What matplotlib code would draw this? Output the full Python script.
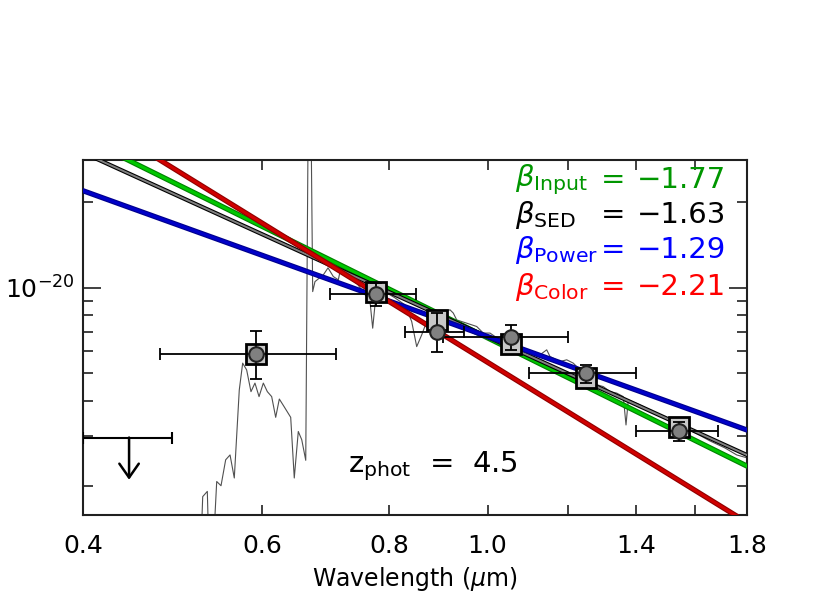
import numpy as np
import matplotlib
matplotlib.use('Agg')
import matplotlib.pyplot as plt
import matplotlib.patheffects as pe
from matplotlib.ticker import FixedLocator, NullLocator

unit = 1e-21  # fluxes below are in units of 1e-21

# photometry: wavelength (um), flux, errors
phot_wave = [0.592, 0.776, 0.891, 1.054, 1.249, 1.544]
phot_wave_lo = [0.476, 0.700, 0.829, 0.905, 1.099, 1.400]
phot_wave_hi = [0.709, 0.850, 0.948, 1.199, 1.400, 1.687]
phot_flux = [5.87, 9.53, 6.98, 6.70, 5.01, 3.14]
phot_flux_lo = [4.77, 8.66, 5.95, 6.05, 4.62, 2.89]
phot_flux_hi = [7.02, 10.4, 8.15, 7.37, 5.36, 3.38]
# model (SED) fluxes in the bands
model_flux = [5.87, 9.63, 7.71, 6.35, 4.81, 3.23]

# upper limit
ulim_wave = 0.444
ulim_wave_lo = 0.40
ulim_wave_hi = 0.489
ulim_flux = 2.97
ulim_arrow = 2.11

# best fit SED template
spec_wave = [0.5232, 0.5246, 0.5301, 0.5313, 0.5385, 0.5415, 0.5468, 0.5526, 0.5581,
             0.5635, 0.5699, 0.5743, 0.5795, 0.5852, 0.5905, 0.5960, 0.6018, 0.6073,
             0.6133, 0.6189, 0.6240, 0.6307, 0.6403, 0.6455, 0.6514, 0.6565, 0.6625,
             0.6667, 0.6697, 0.6730, 0.6765, 0.6894, 0.6968, 0.7052, 0.7132, 0.7160,
             0.7450, 0.7663, 0.7710, 0.7750, 0.7839, 0.7958, 0.8109, 0.8295, 0.8422,
             0.8518, 0.8615, 0.8713, 0.8838, 0.9082, 0.9185, 0.9254, 0.9326, 0.9539,
             0.9648, 0.9758, 0.9905, 1.0056, 1.0171, 1.0404, 1.0643, 1.0845, 1.1263,
             1.1435, 1.1521, 1.1784, 1.1965, 1.2145, 1.2331, 1.2613, 1.2806, 1.2999,
             1.3198, 1.3399, 1.3601, 1.3685, 1.3756, 1.4126, 1.4557, 1.4950, 1.5466,
             1.6000, 1.6553, 1.7125, 1.7585, 1.8000]
spec_flux = [1.41, 1.84, 1.92, 1.41, 1.41, 2.08, 2.01, 2.48, 2.58,
             2.14, 4.37, 5.43, 5.14, 4.31, 4.62, 4.14, 4.62, 4.31,
             4.14, 3.50, 4.06, 3.82, 3.50, 2.14, 3.12, 2.92, 2.47,
             60.0, 60.0, 9.70, 10.52, 11.11, 11.76, 10.96, 10.67, 11.41,
             10.30, 8.95, 7.21, 8.71, 9.45, 9.60, 9.22, 8.71, 7.61,
             6.21, 6.83, 7.61, 8.04, 8.23, 8.37, 8.15, 7.71, 7.51,
             7.41, 7.31, 6.93, 6.93, 6.74, 6.56, 6.35, 6.05, 5.81,
             6.05, 5.73, 5.50, 5.58, 5.43, 5.14, 4.86, 4.56, 4.49,
             4.31, 4.26, 4.14, 3.29, 4.03, 3.87, 3.67, 3.49, 3.29,
             3.09, 2.89, 2.73, 2.58, 2.52]

# UV slope fits: f = norm * lambda^beta (norm at 1 um)
fit_names = ['Input', 'SED', 'Power', 'Color']
fit_beta = [-1.77, -1.63, -1.29, -2.21]
fit_norm = [6.67, 6.72, 6.74, 5.47]
fit_line_colors = ['#00c800', '#808080', '#0000c8', '#d00000']
fit_edge_colors = ['#008000', '#000000', '#00008c', '#900000']
fit_text_colors = ['#009600', 'black', '#0000ff', '#ff0000']

z_phot = 4.5

xticks = [0.4, 0.6, 0.8, 1.0, 1.2, 1.4, 1.6, 1.8]
xticklabels = ['0.4', '0.6', '0.8', '1.0', '', '1.4', '', '1.8']

fig = plt.figure(figsize=(8.3, 5.93), dpi=100)
ax = fig.add_axes([0.1, 0.1315, 0.8, 0.5987])

ax.plot(spec_wave, np.array(spec_flux) * unit, color='#505050', lw=0.8, zorder=2)

wl = np.array([0.38, 1.9])
for beta, norm, lc, ec in zip(fit_beta, fit_norm, fit_line_colors, fit_edge_colors):
    lw = 1.4 if lc == '#808080' else 2.2
    ax.plot(wl, norm * wl ** beta * unit, color=lc, lw=lw, zorder=3,
            path_effects=[pe.Stroke(linewidth=lw + 1.6, foreground=ec), pe.Normal()])

ax.plot(phot_wave, np.array(model_flux) * unit, 's', ms=15, mfc='#c8c8c8',
        mec='black', mew=2, zorder=4)
xerr = [np.array(phot_wave) - phot_wave_lo, np.array(phot_wave_hi) - phot_wave]
yerr = [(np.array(phot_flux) - phot_flux_lo) * unit, (np.array(phot_flux_hi) - phot_flux) * unit]
ax.errorbar(phot_wave, np.array(phot_flux) * unit, xerr=xerr, yerr=yerr, fmt='none',
            ecolor='black', elinewidth=1.3, capsize=4, capthick=1.3, zorder=5)
ax.plot(phot_wave, np.array(phot_flux) * unit, 'o', ms=10.5, mfc='#808080',
        mec='#202020', mew=1.5, zorder=6)

ax.errorbar([ulim_wave], [ulim_flux * unit],
            xerr=[[ulim_wave - ulim_wave_lo], [ulim_wave_hi - ulim_wave]],
            fmt='none', ecolor='black', elinewidth=1.5, capsize=4, capthick=1.5, zorder=5)
ax.annotate('', xy=(ulim_wave, ulim_arrow * unit), xytext=(ulim_wave, ulim_flux * unit),
            arrowprops=dict(arrowstyle='->,head_width=0.7,head_length=1.0', lw=1.8,
                            color='black', shrinkA=0, shrinkB=0), zorder=5)

ax.set_xscale('log')
ax.set_yscale('log')
ax.set_xlim(0.4, 1.8)
ax.set_ylim(1.585e-21, 2.82e-20)

ax.xaxis.set_major_locator(FixedLocator(xticks))
ax.set_xticklabels(xticklabels)
ax.xaxis.set_minor_locator(NullLocator())
ax.yaxis.set_major_locator(FixedLocator([1e-20]))
ax.set_yticklabels([r'$10^{-20}$'])
ax.yaxis.set_minor_locator(FixedLocator([k * 1e-21 for k in range(2, 10)] + [2e-20]))

ax.tick_params(which='both', direction='in', top=True, right=True, width=1.2, color='#202020')
ax.tick_params(axis='x', which='major', length=7, labelsize=18, pad=14)
ax.tick_params(axis='y', which='major', length=13, labelsize=18, pad=6)
ax.tick_params(axis='y', which='minor', length=7)
for s in ax.spines.values():
    s.set_linewidth(1.5)
    s.set_color('#202020')

ax.set_xlabel(r'Wavelength ($\mu$m)', fontsize=17, labelpad=5)

ys = [0.944, 0.845, 0.746, 0.642]
for name, beta, tc, y in zip(fit_names, fit_beta, fit_text_colors, ys):
    ax.text(0.651, y, r'$\beta_{\mathrm{%s}}$' % name, color=tc, fontsize=21,
            transform=ax.transAxes, ha='left', va='center')
    ax.text(0.798, y, '=', color=tc, fontsize=21, transform=ax.transAxes,
            ha='center', va='center')
    ax.text(0.968, y, '\u2212%.2f' % abs(beta), color=tc, fontsize=21,
            transform=ax.transAxes, ha='right', va='center')

ax.text(0.399, 0.12, r'z$_{\mathrm{phot}}$  =  %.1f' % z_phot, fontsize=21,
        transform=ax.transAxes, ha='left', va='baseline')

fig.savefig('out.png', dpi=100)
